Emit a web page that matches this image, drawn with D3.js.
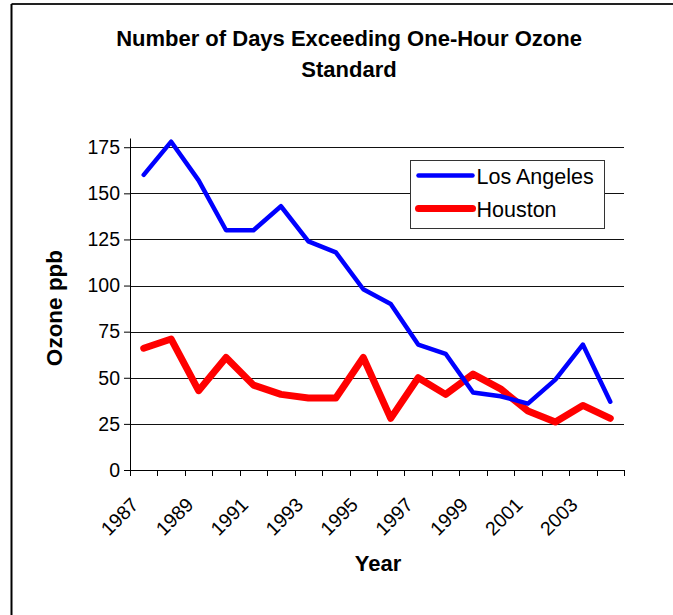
<!DOCTYPE html>
<html>
<head>
<meta charset="utf-8">
<script src="https://cdn.jsdelivr.net/npm/d3@7"></script>
<style>
  body { margin: 0; background: #fff; }
  text { font-family: "Liberation Sans", Arial, sans-serif; fill: #000; }
</style>
</head>
<body>
<div id="chart"></div>
<script>
// data
const years = d3.range(1987, 2005).map(String);
const losAngeles = [160, 178, 157, 130, 130, 143, 124, 118, 98, 90, 68, 63, 42, 40, 36, 49, 68, 37];
const houston = [66, 71, 43, 61, 46, 41, 39, 39, 61, 28, 50, 41, 52, 44, 32, 26, 35, 28];
const yTicks = [0, 25, 50, 75, 100, 125, 150, 175];
const xLabels = ["1987", "1989", "1991", "1993", "1995", "1997", "1999", "2001", "2003"];

const width = 673, height = 615;
const margin = {top: 138, right: 49, bottom: 145, left: 130};

let svg = d3.select("#chart")
    .append("svg")
    .attr("width", width)
    .attr("height", height);

// outer frame (top + left edges only show in the picture)
svg.append("line").attr("x1", 11.5).attr("x2", width).attr("y1", 4).attr("y2", 4)
    .attr("stroke", "#222").attr("stroke-width", 2);
svg.append("line").attr("x1", 11.5).attr("x2", 11.5).attr("y1", 4).attr("y2", height)
    .attr("stroke", "#000").attr("stroke-width", 2);

let plot = svg.append("g")
    .attr("transform", `translate(${margin.left}, ${margin.top})`);

let w = width - margin.left - margin.right;
let h = height - margin.top - margin.bottom;

let x = d3.scaleBand().domain(years).range([0, w]);
let y = d3.scaleLinear().domain([0, 180]).range([h, 0]);

// gridlines
plot.append("g")
    .selectAll("line")
    .data(yTicks.slice(1))
    .enter()
    .append("line")
    .attr("x1", 0).attr("x2", w)
    .attr("y1", d => Math.round(y(d)) + 0.5).attr("y2", d => Math.round(y(d)) + 0.5)
    .attr("stroke", "#111");

// y axis
let yAxis = plot.append("g")
    .call(d3.axisLeft(y).tickValues(yTicks).tickSize(6).tickPadding(4).tickSizeOuter(0));
yAxis.select(".domain").attr("stroke", "#000");
yAxis.selectAll("text").style("font-size", "19.5px");

// x axis: ticks at category edges
let xAxis = plot.append("g").attr("transform", `translate(0, ${h})`);
xAxis.append("line").attr("x1", 0).attr("x2", w).attr("y1", 0.5).attr("y2", 0.5).attr("stroke", "#000");
xAxis.selectAll("line.tick")
    .data(years.concat(["end"]))
    .enter()
    .append("line")
    .attr("class", "tick")
    .attr("x1", (d, i) => Math.round(i * x.bandwidth()) + 0.5)
    .attr("x2", (d, i) => Math.round(i * x.bandwidth()) + 0.5)
    .attr("y1", 0).attr("y2", 6)
    .attr("stroke", "#000");

xAxis.selectAll("text")
    .data(xLabels)
    .enter()
    .append("text")
    .attr("transform", d => `translate(${x(d) + x.bandwidth() / 2 - 4}, 36) rotate(-45)`)
    .style("text-anchor", "end")
    .style("font-size", "19.5px")
    .text(d => d);

// lines
let line = d3.line()
    .x((d, i) => x(years[i]) + x.bandwidth() / 2)
    .y(d => y(d));

plot.append("path")
    .datum(houston)
    .attr("fill", "none")
    .attr("stroke", "#ff0000")
    .attr("stroke-width", 7)
    .attr("stroke-linejoin", "round")
    .attr("stroke-linecap", "round")
    .attr("d", line);

plot.append("path")
    .datum(losAngeles)
    .attr("fill", "none")
    .attr("stroke", "#0000ff")
    .attr("stroke-width", 4.5)
    .attr("stroke-linejoin", "round")
    .attr("stroke-linecap", "round")
    .attr("d", line);

// legend
let legend = svg.append("g").attr("transform", "translate(410.5, 160.5)");
legend.append("rect")
    .attr("width", 194).attr("height", 68)
    .attr("fill", "#fff").attr("stroke", "#333");
let items = [{name: "Los Angeles", color: "#0000ff", sw: 4.5}, {name: "Houston", color: "#ff0000", sw: 7}];
items.forEach(function(d, i) {
    let cy = 15 + i * 33;
    legend.append("line")
        .attr("x1", 8).attr("x2", 62).attr("y1", cy).attr("y2", cy)
        .attr("stroke", d.color).attr("stroke-width", d.sw).attr("stroke-linecap", "round");
    legend.append("text")
        .attr("x", 66).attr("y", cy + 8)
        .style("font-size", "21.5px")
        .text(d.name);
});

// title and axis titles
svg.append("text")
    .attr("x", 349).attr("y", 46)
    .style("text-anchor", "middle").style("font-size", "22px").style("font-weight", "bold")
    .text("Number of Days Exceeding One-Hour Ozone");
svg.append("text")
    .attr("x", 349).attr("y", 77)
    .style("text-anchor", "middle").style("font-size", "22px").style("font-weight", "bold")
    .text("Standard");

svg.append("text")
    .attr("transform", "translate(62, 308) rotate(-90)")
    .style("text-anchor", "middle").style("font-size", "22.5px").style("font-weight", "bold")
    .text("Ozone ppb");

svg.append("text")
    .attr("x", 378).attr("y", 571)
    .style("text-anchor", "middle").style("font-size", "22px").style("font-weight", "bold")
    .text("Year");
</script>
</body>
</html>
